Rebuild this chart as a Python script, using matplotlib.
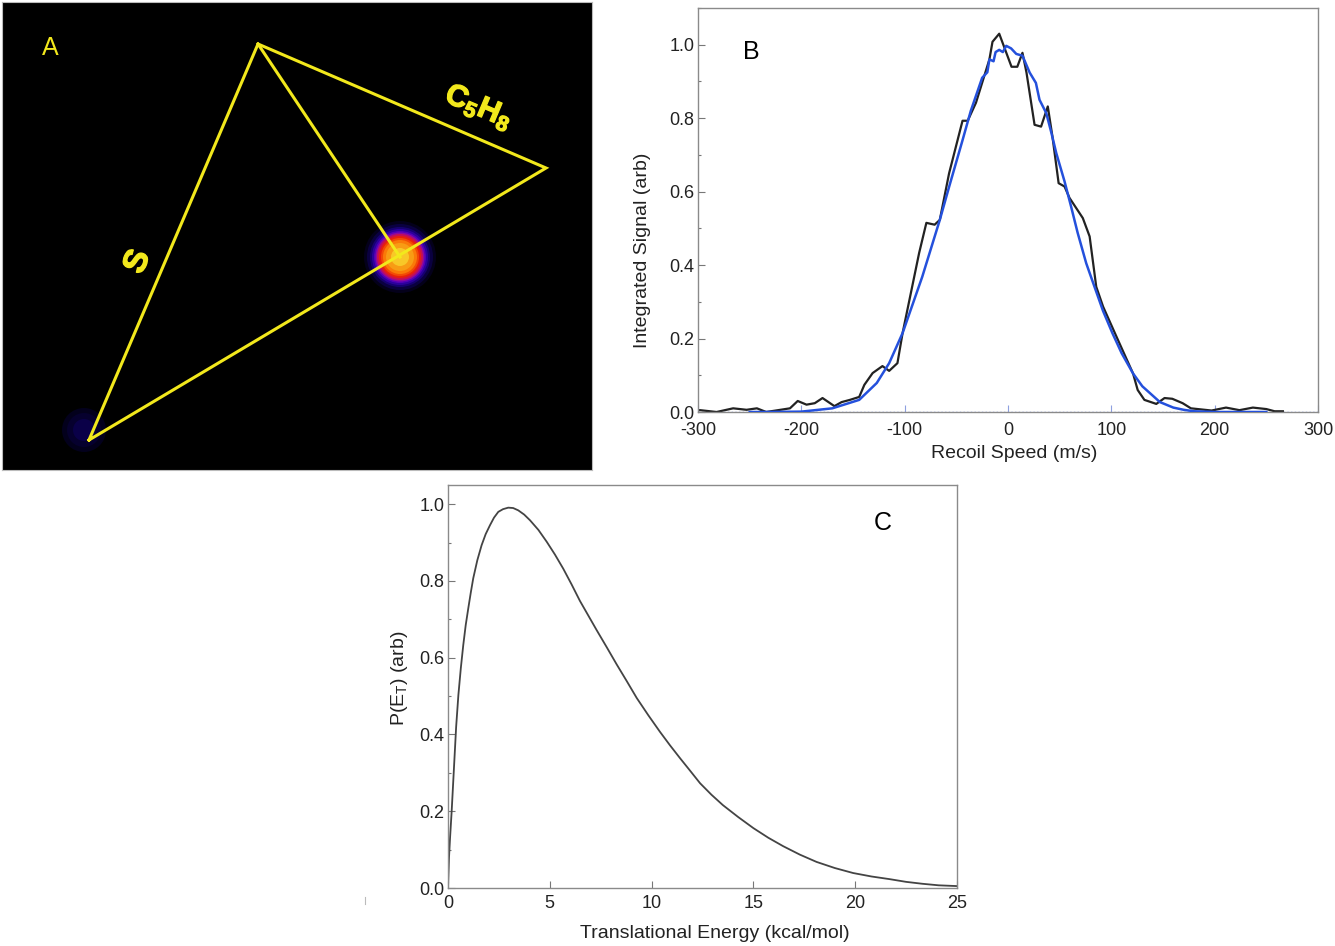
#!/usr/bin/env python3
import matplotlib
matplotlib.use('Agg')
import matplotlib.pyplot as plt
import matplotlib.patheffects as pe
from matplotlib.lines import Line2D
from matplotlib.patches import Circle
from matplotlib.ticker import MultipleLocator

plt.rcParams['font.family'] = ['Liberation Sans', 'DejaVu Sans']
plt.rcParams['axes.unicode_minus'] = False
plt.rcParams['mathtext.fontset'] = 'custom'
plt.rcParams['mathtext.rm'] = 'Liberation Sans'
plt.rcParams['mathtext.bf'] = 'Liberation Sans:bold'

# panel A: ion image, in image pixels
apex = (258, 44)
right_corner = (546, 168)
left_corner = (89, 440)
spot_centre = (400, 257)
spot_radii = [36, 33, 30, 28, 26, 24.5, 23, 21, 19, 17, 14, 9]
spot_colors = ['#04001a', '#0a0040', '#160070', '#2c009c', '#5200b8', '#8c08a0',
               '#c81050', '#e8200c', '#f24a06', '#fa7a08', '#f89c14', '#f8c828']
faint_radii = [22, 17, 11]
faint_colors = ['#03001c', '#06002e', '#0a0048']

# panel B: recoil speed distribution
speed_data = [-300, -298, -282, -266, -253, -243, -234, -211, -203.5, -195, -187, -179.5,
              -168, -161, -153, -144, -139, -131, -121.5, -115, -107, -102, -86, -79, -71,
              -66, -57, -44, -39, -31, -18, -15, -8.5, 3.4, 9, 14, 17.9, 25.7, 32, 38.5, 43,
              49, 54.7, 59.5, 72.4, 79, 85.4, 92, 105, 121, 125.5, 132, 143.5, 151.5, 159,
              169, 177, 197, 211, 224, 237, 250, 258, 266]
signal_data = [0.005, 0.005, 0.0, 0.01, 0.006, 0.01, 0.0, 0.01, 0.03, 0.02, 0.024, 0.038,
               0.016, 0.027, 0.033, 0.041, 0.074, 0.106, 0.125, 0.112, 0.133, 0.215, 0.433,
               0.515, 0.51, 0.523, 0.65, 0.793, 0.793, 0.842, 0.96, 1.008, 1.03, 0.94,
               0.94, 0.978, 0.924, 0.782, 0.777, 0.832, 0.75, 0.623, 0.614, 0.583, 0.528,
               0.478, 0.341, 0.287, 0.205, 0.105, 0.06, 0.033, 0.022, 0.038, 0.036, 0.024,
               0.01, 0.004, 0.012, 0.005, 0.012, 0.008, 0.002, 0.002]
speed_fit = [-250, -235, -200, -170, -144, -127, -115, -102, -83, -66, -57, -44, -36, -25,
             -20, -18, -14, -12, -8.5, -5, -1.7, 3, 8, 14, 21, 27, 30.5, 37, 42, 46.7, 54.7,
             61, 67.4, 75.7, 83.7, 92, 101, 110, 121, 130, 147, 160, 170, 180, 200, 250]
signal_fit = [0.0, 0.0, 0.001, 0.01, 0.033, 0.079, 0.133, 0.215, 0.368, 0.523, 0.613, 0.74,
              0.82, 0.91, 0.925, 0.96, 0.955, 0.98, 0.986, 0.98, 0.997, 0.99, 0.975, 0.97,
              0.924, 0.896, 0.85, 0.814, 0.76, 0.705, 0.628, 0.56, 0.488, 0.405, 0.341,
              0.275, 0.215, 0.16, 0.105, 0.07, 0.027, 0.012, 0.006, 0.002, 0.0, 0.0]

# panel C: translational energy distribution
energy = [0, 0.05, 0.1, 0.18, 0.3, 0.4, 0.51, 0.63, 0.75, 0.87, 1.0, 1.12, 1.24, 1.44, 1.65,
          1.85, 2.06, 2.26, 2.47, 2.7, 2.96, 3.2, 3.45, 3.74, 4.03, 4.44, 4.85, 5.25, 5.66,
          6.07, 6.48, 6.89, 7.3, 7.8, 8.28, 8.78, 9.27, 9.84, 10.41, 10.9, 11.4, 11.9, 12.38,
          12.94, 13.5, 14.25, 15.0, 15.73, 16.46, 17.28, 18.1, 19.0, 19.9, 20.8, 21.7, 22.5,
          23.3, 24.1, 25]
p_et = [0.0, 0.08, 0.13, 0.2, 0.32, 0.42, 0.503, 0.573, 0.633, 0.685, 0.73, 0.77, 0.807,
        0.854, 0.893, 0.922, 0.945, 0.965, 0.98, 0.987, 0.991, 0.99, 0.984, 0.973, 0.958,
        0.933, 0.902, 0.869, 0.832, 0.791, 0.748, 0.71, 0.672, 0.627, 0.583, 0.539, 0.495,
        0.45, 0.407, 0.372, 0.338, 0.305, 0.273, 0.243, 0.216, 0.185, 0.156, 0.131, 0.109,
        0.087, 0.068, 0.052, 0.039, 0.03, 0.023, 0.016, 0.011, 0.007, 0.005]

W, H = 1335, 946
fig = plt.figure(figsize=(W / 100, H / 100), dpi=100, facecolor='white')


def box(left, top, right, bottom):
    # pixel box to figure fractions
    return [left / W, 1 - bottom / H, (right - left) / W, (bottom - top) / H]


def style_axes(ax):
    for spine in ax.spines.values():
        spine.set_color('#8a8a8a')
        spine.set_linewidth(1.0)
    ax.tick_params(which='major', direction='in', length=5, width=0.8, color='#777777',
                   labelsize=13, labelcolor='#222222')
    ax.tick_params(which='minor', direction='in', length=2.5, width=0.8, color='#777777')
    ax.tick_params(axis='x', pad=7)
    ax.tick_params(axis='y', pad=2.5)


# A
ax_a = fig.add_axes(box(2, 2, 592, 470))
ax_a.set_facecolor('black')
ax_a.set_xlim(2, 592)
ax_a.set_ylim(470, 2)
ax_a.set_xticks([])
ax_a.set_yticks([])
for spine in ax_a.spines.values():
    spine.set_color('#bbbbbb')
for r, c in zip(spot_radii, spot_colors):
    ax_a.add_patch(Circle(spot_centre, r, color=c, lw=0))
for r, c in zip(faint_radii, faint_colors):
    ax_a.add_patch(Circle((84, 430), r, color=c, lw=0))

yellow = '#f2e81c'
ax_a.plot([left_corner[0], apex[0], right_corner[0], left_corner[0]],
          [left_corner[1], apex[1], right_corner[1], left_corner[1]],
          color=yellow, lw=2.2, solid_joinstyle='miter')
ax_a.plot([apex[0], spot_centre[0]], [apex[1], spot_centre[1]], color=yellow, lw=2.2)
bold_edge = [pe.withStroke(linewidth=0.9, foreground=yellow)]
ax_a.text(50, 48, 'A', color=yellow, fontsize=18, ha='center', va='center')
ax_a.text(138, 262, 'S', color=yellow, fontsize=24, fontweight='bold', rotation=67,
          ha='center', va='center', path_effects=bold_edge)
ax_a.text(479, 107, r'$\mathbf{C_5H_8}$', color=yellow, fontsize=22, rotation=-23,
          ha='center', va='center', path_effects=bold_edge)

# B
ax_b = fig.add_axes(box(698, 8, 1318, 412))
style_axes(ax_b)
ax_b.plot(speed_fit, signal_fit, color='#2450dc', lw=1.8, zorder=3)
ax_b.plot(speed_data, signal_data, color='#222222', lw=1.6, zorder=2)
ax_b.axhline(0, color='#5a74e0', lw=1.0, ls=':', zorder=1)
ax_b.set_xlim(-300, 300)
ax_b.set_ylim(0, 1.1)
ax_b.xaxis.set_major_locator(MultipleLocator(100))
ax_b.yaxis.set_major_locator(MultipleLocator(0.2))
ax_b.yaxis.set_minor_locator(MultipleLocator(0.1))
ax_b.tick_params(axis='x', color='#8ea0e0')
ax_b.set_xlabel('Recoil Speed (m/s)', fontsize=14, color='#222222')
ax_b.set_ylabel('Integrated Signal (arb)', fontsize=14, color='#222222')
ax_b.xaxis.set_label_coords(0.51, -0.082)
ax_b.yaxis.set_label_coords(-0.076, 0.40)
ax_b.text(751 / W, 1 - 52 / H, 'B', transform=fig.transFigure, fontsize=18, color='black',
          ha='center', va='center')

# C
ax_c = fig.add_axes(box(448, 485, 957, 888))
style_axes(ax_c)
ax_c.plot(energy, p_et, color='#444444', lw=1.3)
ax_c.set_xlim(0, 25)
ax_c.set_ylim(0, 1.05)
ax_c.xaxis.set_major_locator(MultipleLocator(5))
ax_c.yaxis.set_major_locator(MultipleLocator(0.2))
ax_c.yaxis.set_minor_locator(MultipleLocator(0.1))
ax_c.tick_params(axis='x', pad=5)
ax_c.set_xlabel('Translational Energy (kcal/mol)', fontsize=14, color='#222222')
ax_c.set_ylabel(r'P(E$_{\mathrm{T}}$) (arb)', fontsize=14, color='#222222')
ax_c.xaxis.set_label_coords(0.5236, -0.092)
ax_c.yaxis.set_label_coords(-0.074, 0.52)
ax_c.text(883 / W, 1 - 523 / H, 'C', transform=fig.transFigure, fontsize=18, color='black',
          ha='center', va='center')

# stray mark left of panel C
fig.add_artist(Line2D([365 / W, 365 / W], [1 - 897 / H, 1 - 904 / H], color='#bbbbbb', lw=0.8))

fig.savefig('out.png', dpi=100, facecolor='white')
